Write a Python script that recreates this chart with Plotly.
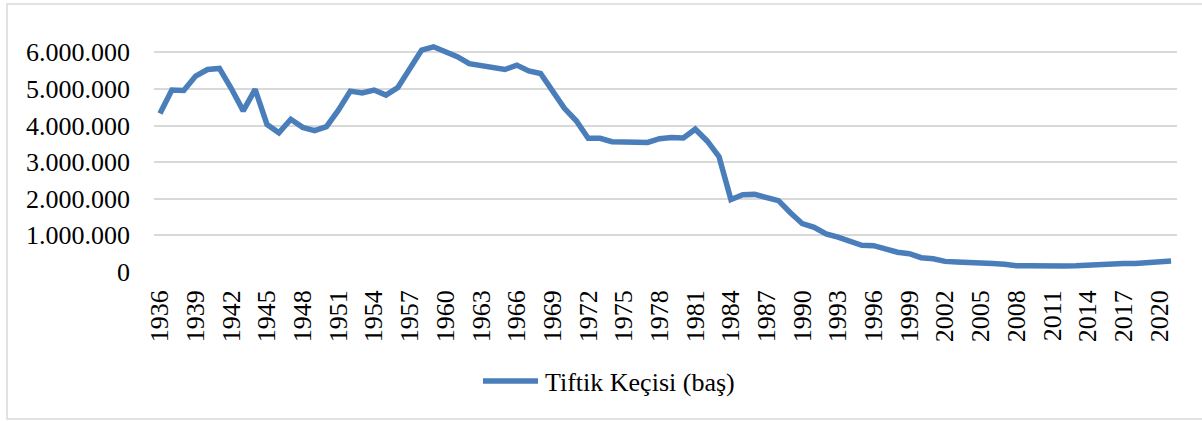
import plotly.graph_objects as go

years = list(range(1936, 2022))
values = [
    4.33, 4.97, 4.96, 5.35, 5.53, 5.56, 5.01, 4.40, 4.99, 4.03,
    3.80, 4.17, 3.95, 3.86, 3.97, 4.42, 4.94, 4.89, 4.97, 4.83,
    5.04, 5.56, 6.06, 6.15, 6.01, 5.88, 5.69, 5.63, 5.60, 5.53,
    5.65, 5.49, 5.42, 4.97, 4.47, 4.13, 3.65, 3.65, 3.56, 3.55,
    3.54, 3.54, 3.64, 3.67, 3.66, 3.90, 3.58, 3.15, 1.98, 2.11,
    2.12, 2.02, 1.95, 1.62, 1.32, 1.22, 1.04, 0.95, 0.82, 0.73,
    0.72, 0.63, 0.54, 0.50, 0.39, 0.36, 0.29, 0.27, 0.245, 0.25,
    0.23, 0.21, 0.17, 0.17, 0.16, 0.16, 0.165, 0.17, 0.19, 0.21,
    0.22, 0.23, 0.23, 0.25, 0.30, 0.30,
]
values = [v * 1_000_000 for v in values]
series_name = "Tiftik Keçisi (baş)"
ytick_vals = [0, 1_000_000, 2_000_000, 3_000_000, 4_000_000, 5_000_000, 6_000_000]
ytick_text = ["0", "1.000.000", "2.000.000", "3.000.000", "4.000.000", "5.000.000", "6.000.000"]
xtick_vals = list(range(1936, 2022, 3))

W, H = 1202, 421
L, R, T, B = 154, 25, 34, 149
pw, ph = W - L - R, H - T - B
line_color = "#4a7ebb"
font_family = "Liberation Serif"

def px(x):
    return (x - L) / pw

def py(y):
    return (H - B - y) / ph

fig = go.Figure()
fig.add_trace(go.Scatter(
    x=years, y=values, mode="lines", name=series_name,
    line=dict(color=line_color, width=5.5), showlegend=False,
))

fig.update_layout(
    width=W, height=H,
    margin=dict(l=L, r=R, t=T, b=B),
    paper_bgcolor="white", plot_bgcolor="white",
    font=dict(family=font_family, size=26, color="#000000"),
    xaxis=dict(
        range=[1935.5, 2021.5], tickvals=xtick_vals, tickangle=-90,
        showgrid=False, zeroline=False, showline=False, ticks="",
        tickfont=dict(size=26, family=font_family), ticklabelstandoff=12,
    ),
    yaxis=dict(
        range=[0, 6_500_000], tickvals=ytick_vals, ticktext=ytick_text,
        showgrid=True, gridcolor="#d9d9d9", gridwidth=1.5,
        zeroline=False, showline=False, ticks="",
        tickfont=dict(size=26, family=font_family), ticklabelstandoff=23,
    ),
    shapes=[
        dict(type="rect", xref="paper", yref="paper",
             x0=px(7), x1=px(1215), y0=py(419), y1=py(4),
             line=dict(color="#d9d9d9", width=1.5), fillcolor="rgba(0,0,0,0)"),
        dict(type="line", xref="paper", yref="paper",
             x0=px(483), x1=px(538), y0=py(381), y1=py(381),
             line=dict(color=line_color, width=5.5)),
    ],
    annotations=[
        dict(text=series_name, xref="paper", yref="paper",
             x=px(543), y=py(382), xanchor="left", yanchor="middle",
             showarrow=False, font=dict(size=26, family=font_family)),
    ],
)

fig.write_html("out.html", config={"displayModeBar": False},
               post_script="document.body.style.margin='0';")
